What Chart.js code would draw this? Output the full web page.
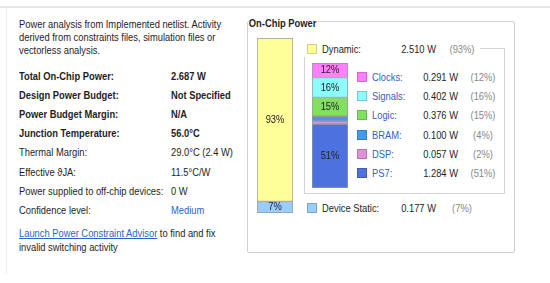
<!DOCTYPE html>
<html>
<head>
<meta charset="utf-8">
<script src="https://cdn.jsdelivr.net/npm/chart.js@4.4.0/dist/chart.umd.min.js"></script>
<style>
  body { margin: 0; background: #fff; }
  #page {
    position: relative; width: 550px; height: 283px; overflow: hidden;
    font-family: "Liberation Sans", Arial, sans-serif;
    font-size: 11px; color: #1e1e1e;
  }
  /* the source UI font is narrow; squeeze Liberation Sans to match */
  .abs { position: absolute; white-space: nowrap; line-height: 14px; transform: scaleX(0.85); transform-origin: left center; }
  .b { font-weight: bold; }
  .blue { color: #2f62c9; }
  .gray { color: #888; }
  .box { position: absolute; border: 1px solid #cfcfcf; }
  .sw { position: absolute; width: 10px; height: 10px; box-sizing: border-box; border: 1px solid rgba(0,0,0,0.18); }
  canvas { position: absolute; }
</style>
</head>
<body>
<div id="page">
  <!-- frame -->
  <div style="position:absolute;left:0;top:6px;width:550px;height:2px;background:#e6e6e6"></div>
  <div style="position:absolute;left:6px;top:8px;width:1px;height:266px;background:#ececec"></div>

  <div class="abs" style="left:19px;top:18px;line-height:13px">Power analysis from Implemented netlist. Activity<br>derived from constraints files, simulation files or<br>vectorless analysis.</div>
  <div class="abs" style="left:19px;top:226px"><span class="blue" style="text-decoration:underline">Launch Power Constraint Advisor</span> to find and fix</div>
  <div class="abs" style="left:19px;top:240px">invalid switching activity</div>

  <!-- On-Chip Power panel -->
  <div class="box" style="left:247px;top:21px;width:266px;height:230px;border-radius:2px"></div>
  <div class="abs b" style="left:248px;top:16px;background:#fff;padding:0 2px 0 1px">On-Chip Power</div>

  <div class="box" style="left:304px;top:48px;width:199px;height:144px;border-color:#d4d4d4"></div>
  <div style="position:absolute;left:300px;top:42px;width:180px;height:15px;background:#fff"></div>

  <canvas id="totalBar" width="36" height="175" style="left:257px;top:38px"></canvas>
  <canvas id="dynBar" width="36" height="125" style="left:312px;top:63px"></canvas>
</div>

<script>
// summary table
const summaryLabels = ['Total On-Chip Power:', 'Design Power Budget:', 'Power Budget Margin:', 'Junction Temperature:',
  'Thermal Margin:', 'Effective \u03D1JA:', 'Power supplied to off-chip devices:', 'Confidence level:'];
const summaryValues = ['2.687 W', 'Not Specified', 'N/A', '56.0\u00B0C', '29.0\u00B0C (2.4 W)', '11.5\u00B0C/W', '0 W', 'Medium'];

// top level split
const totalParts = ['Dynamic', 'Device Static'];
const totalWatts = [2.510, 0.177];

// dynamic breakdown
const dynamicParts = ['Clocks', 'Signals', 'Logic', 'BRAM', 'DSP', 'PS7'];
const dynamicWatts = [0.291, 0.402, 0.376, 0.100, 0.057, 1.284];

const totalColors = ['#ffff99', '#99ccff'];
const dynamicColors = ['#ff80ff', '#8cfcfc', '#80e060', '#4499ee', '#e08fd8', '#4d72e0'];

const page = document.getElementById('page');
function addText(html, cls, left, top) {
  const d = document.createElement('div');
  d.className = 'abs ' + (cls || '');
  d.style.left = left + 'px';
  d.style.top = top + 'px';
  d.innerHTML = html;
  page.appendChild(d);
  return d;
}

summaryLabels.forEach((lab, i) => {
  const top = 69 + i * 19.1;
  const bold = i < 4 ? 'b' : '';
  addText(lab, bold, 19, top);
  addText(summaryValues[i], i === 7 ? 'blue' : bold, 171, top);
});

const sum = a => a.reduce((s, v) => s + v, 0);
const pct = (v, tot) => Math.round(v / tot * 100) + '%';
const totalSum = sum(totalWatts);
const dynSum = sum(dynamicWatts);

// legend rows
function legendRow(name, watts, share, color, x, y, sub) {
  const sw = document.createElement('div');
  sw.className = 'sw';
  sw.style.left = x + 'px';
  sw.style.top = (y - 5) + 'px';
  sw.style.background = color;
  page.appendChild(sw);
  addText(name + ':', sub ? 'blue' : '', x + 15, y - 7);
  const v = addText(watts.toFixed(3) + ' W', '', 0, y - 7);
  v.style.left = 'auto';
  v.style.right = (550 - (sub ? 458 : 436)) + 'px';
  v.style.transformOrigin = 'right center';
  const p = addText('(' + share + ')', 'gray', 0, y - 7);
  p.style.width = '40px';
  p.style.textAlign = 'center';
  p.style.transformOrigin = 'center center';
  p.style.left = ((sub ? 483 : 462) - 20) + 'px';
}
legendRow(totalParts[0], totalWatts[0], pct(totalWatts[0], totalSum), totalColors[0], 307, 49, false);
legendRow(totalParts[1], totalWatts[1], pct(totalWatts[1], totalSum), totalColors[1], 307, 208, false);
dynamicParts.forEach((name, i) => {
  legendRow(name, dynamicWatts[i], pct(dynamicWatts[i], dynSum), dynamicColors[i], 357, 77 + i * 19.2, true);
});

// percentage labels inside segments
const segLabels = {
  id: 'segLabels',
  afterDatasetsDraw(chart) {
    const ctx = chart.ctx;
    const tot = chart.options.plugins.segLabels.total;
    chart.data.datasets.forEach((ds, i) => {
      const bar = chart.getDatasetMeta(i).data[0];
      const h = Math.abs(bar.base - bar.y);
      if (h < 10) return;
      ctx.save();
      ctx.translate(bar.x, (bar.y + bar.base) / 2);
      ctx.scale(0.85, 1);
      ctx.font = '11px "Liberation Sans", Arial, sans-serif';
      ctx.fillStyle = '#222';
      ctx.textAlign = 'center';
      ctx.textBaseline = 'middle';
      ctx.fillText(pct(ds.data[0], tot), 0, 0);
      ctx.restore();
    });
  }
};

function stackedBar(id, names, values, colors) {
  // first dataset sits at the bottom, so reverse the legend order
  const order = names.map((_, i) => i).reverse();
  return new Chart(document.getElementById(id), {
    type: 'bar',
    data: {
      labels: [''],
      datasets: order.map(i => ({
        label: names[i],
        data: [values[i]],
        backgroundColor: colors[i],
        borderColor: '#9a9a9a',
        borderWidth: 1,
        borderSkipped: false,
        barPercentage: 1,
        categoryPercentage: 1
      }))
    },
    options: {
      responsive: false,
      animation: false,
      layout: { padding: 0 },
      scales: {
        x: { stacked: true, display: false },
        y: { stacked: true, display: false, min: 0, max: sum(values) }
      },
      plugins: {
        legend: { display: false },
        tooltip: { enabled: false },
        segLabels: { total: sum(values) }
      }
    },
    plugins: [segLabels]
  });
}

stackedBar('totalBar', totalParts, totalWatts, totalColors);
stackedBar('dynBar', dynamicParts, dynamicWatts, dynamicColors);
</script>
</body>
</html>
